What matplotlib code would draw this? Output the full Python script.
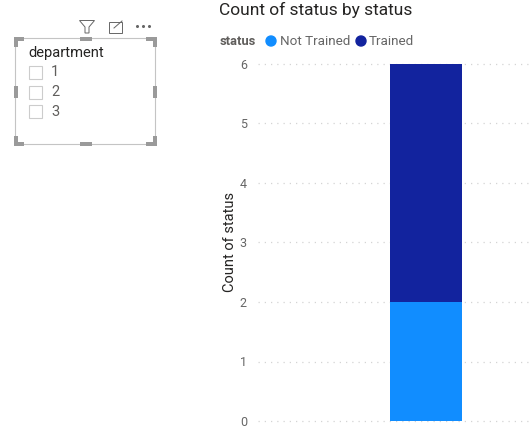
import matplotlib
matplotlib.use('Agg')
import matplotlib.pyplot as plt
from matplotlib.patches import Rectangle, Circle, Polygon

plt.rcParams['font.family'] = ['Roboto', 'DejaVu Sans']

# chart data
segments = ['Not Trained', 'Trained']
counts = [2, 4]
colors = ['#118DFF', '#12239E']
y_ticks = [0, 1, 2, 3, 4, 5, 6]

# slicer data
slicer_title = 'department'
slicer_items = ['1', '2', '3']

W, H = 532, 445
fig = plt.figure(figsize=(W / 100, H / 100), dpi=100, facecolor='white')

# main chart, placed by pixel position
ax = fig.add_axes([258 / W, (H - 421) / H, (W - 258) / W, 357 / H])
bottom = 0
for name, count, color in zip(segments, counts, colors):
    ax.bar(0, count, width=1, bottom=bottom, color=color, label=name, zorder=3)
    bottom += count
ax.set_xlim(-168 / 72, 106 / 72)
ax.set_ylim(0, 6)
ax.set_yticks(y_ticks)
ax.set_xticks([])
ax.tick_params(axis='y', length=0, pad=8, labelsize=9, labelcolor='#666666')
ax.grid(axis='y', color='#d4d4d4', linestyle=(0, (1, 4)), linewidth=0.9, zorder=1)
for s in ax.spines.values():
    s.set_visible(False)
ax.patch.set_alpha(0)
for line in ax.get_ygridlines():
    line.set_clip_on(False)
ax.set_ylabel('Count of status', fontsize=10.5, color='#252423')
ax.yaxis.set_label_coords(-21 / (W - 258), 0.5)

# overlay in pixel coordinates for title, legend and slicer
ov = fig.add_axes([0, 0, 1, 1], zorder=5)
ov.set_xlim(0, W)
ov.set_ylim(H, 0)
ov.axis('off')
ov.patch.set_alpha(0)

ov.text(219, 10, 'Count of status by status', fontsize=12.5, color='#252423', va='center')
ov.text(220, 41.5, 'status', fontsize=9.3, color='#605E5C', fontweight='bold', va='center')
ov.add_patch(Circle((271, 41), 5, color=colors[0]))
ov.text(279.5, 41.5, segments[0], fontsize=9.7, color='#666666', va='center')
ov.add_patch(Circle((361, 41), 5, color=colors[1]))
ov.text(369, 41.5, segments[1], fontsize=9.7, color='#666666', va='center')

# slicer frame
ov.add_patch(Rectangle((15, 38), 140, 106, fill=False, ec='#c4c4c4', lw=0.8))
grip = '#9a9a9a'
for x0, x1, y in [(14, 24, 37), (146, 157, 37), (14, 24, 142), (146, 157, 142), (80, 92, 37), (80, 92, 142)]:
    ov.add_patch(Rectangle((x0 - 0.5, y), x1 - x0, 4, color=grip, lw=0))
for x, y0, y1 in [(14, 37, 47), (153, 37, 47), (14, 136, 146), (153, 136, 146), (14, 86, 98), (153, 86, 98)]:
    ov.add_patch(Rectangle((x - 0.5, y0), 4, y1 - y0, color=grip, lw=0))

ov.text(28.5, 52.5, slicer_title, fontsize=10.6, color='#252423', va='center')
for label, y in zip(slicer_items, [72, 92, 111]):
    ov.add_patch(Rectangle((28.5, y - 6.5), 13, 13, fill=False, ec='#cccccc', lw=0.8))
    ov.text(51, y + 0.5, label, fontsize=10.5, color='#605E5C', va='center')

# visual header icons
ov.add_patch(Polygon([(79.5, 20.5), (94.5, 20.5), (89, 27), (89, 33), (85, 33), (85, 27)],
                     closed=True, fill=False, ec='#666666', lw=0.7))
ov.add_patch(Rectangle((108.5, 21.5), 13, 11, fill=False, ec='#666666', lw=0.7))
ov.plot([114, 122], [28, 21], color='#666666', lw=0.7)
ov.plot([137, 143, 149], [26, 26, 26], ls='none', marker='o', ms=1.2, color='#666666')

fig.savefig('out.png', dpi=100)
